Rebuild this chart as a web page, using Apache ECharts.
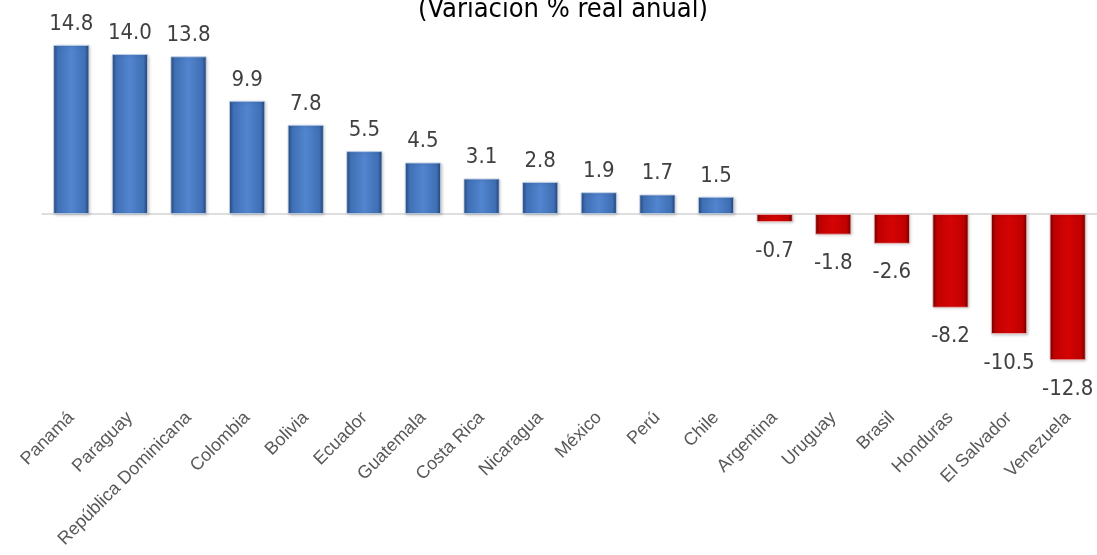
<!DOCTYPE html>
<html>
<head>
<meta charset="utf-8">
<script src="https://cdn.jsdelivr.net/npm/echarts@6/dist/echarts.min.js"></script>
<style>
  html, body { margin: 0; padding: 0; background: #fff; }
  #chart { width: 1097px; height: 555px; }
</style>
</head>
<body>
<div id="chart"></div>
<script>
// datos
const paises = ['Panamá', 'Paraguay', 'República Dominicana', 'Colombia', 'Bolivia', 'Ecuador',
  'Guatemala', 'Costa Rica', 'Nicaragua', 'México', 'Perú', 'Chile', 'Argentina', 'Uruguay',
  'Brasil', 'Honduras', 'El Salvador', 'Venezuela']
const variacion = [14.8, 14.0, 13.8, 9.9, 7.8, 5.5, 4.5, 3.1, 2.8, 1.9, 1.7, 1.5,
  -0.7, -1.8, -2.6, -8.2, -10.5, -12.8]
const titulo = '(Variación % real anual)'

const fuenteAngosta = 'Liberation Sans Narrow, DejaVu Sans Condensed, Liberation Sans, sans-serif'

const azul = {
  type: 'linear', x: 0, y: 0, x2: 1, y2: 0,
  colorStops: [
    { offset: 0, color: '#284a80' },
    { offset: 0.12, color: '#3f6fb4' },
    { offset: 0.5, color: '#5285cf' },
    { offset: 0.88, color: '#3f6fb4' },
    { offset: 1, color: '#243f70' }
  ]
}
const rojo = {
  type: 'linear', x: 0, y: 0, x2: 1, y2: 0,
  colorStops: [
    { offset: 0, color: '#700000' },
    { offset: 0.12, color: '#bf0000' },
    { offset: 0.5, color: '#d40404' },
    { offset: 0.88, color: '#bf0000' },
    { offset: 1, color: '#680000' }
  ]
}

let myEcharts = echarts.init(document.getElementById('chart'))
let option = {
  animation: false,
  title: {
    text: titulo,
    left: 558,
    textAlign: 'center',
    top: -9,
    textStyle: {
      fontFamily: fuenteAngosta,
      fontSize: 27,
      fontWeight: 'normal',
      color: '#000'
    }
  },
  grid: {
    left: 42,
    right: -7,
    top: 31.3,
    bottom: 181.1
  },
  xAxis: [
    {
      type: 'category',
      data: paises,
      axisLine: { onZero: true, lineStyle: { color: '#d3d3d3', width: 1.5 } },
      axisTick: { show: false },
      axisLabel: { show: false }
    },
    {
      type: 'category',
      data: paises,
      position: 'bottom',
      axisLine: { show: false, onZero: false },
      axisTick: { show: false },
      axisLabel: {
        rotate: 45,
        margin: 41,
        interval: 0,
        fontFamily: 'Liberation Sans, Arial',
        fontSize: 18,
        color: '#595959'
      }
    }
  ],
  yAxis: {
    type: 'value',
    min: -14,
    max: 16,
    show: false,
    splitLine: { show: false }
  },
  series: [
    {
      type: 'bar',
      xAxisIndex: 0,
      barWidth: 36,
      data: variacion.map(v => ({
        value: v,
        itemStyle: {
          color: v >= 0 ? azul : rojo,
          borderColor: v >= 0 ? '#c3d3ea' : '#ebbcbc',
          borderWidth: 0.8,
          shadowColor: 'rgba(0,0,0,0.2)',
          shadowBlur: 3,
          shadowOffsetX: 1,
          shadowOffsetY: 1
        },
        label: {
          position: v >= 0 ? 'top' : 'bottom',
          distance: v >= 0 ? 10 : 18
        }
      })),
      label: {
        show: true,
        formatter: p => p.value.toFixed(1),
        fontFamily: fuenteAngosta,
        fontSize: 22,
        color: '#404040'
      }
    }
  ]
}
option && myEcharts.setOption(option)
</script>
</body>
</html>
